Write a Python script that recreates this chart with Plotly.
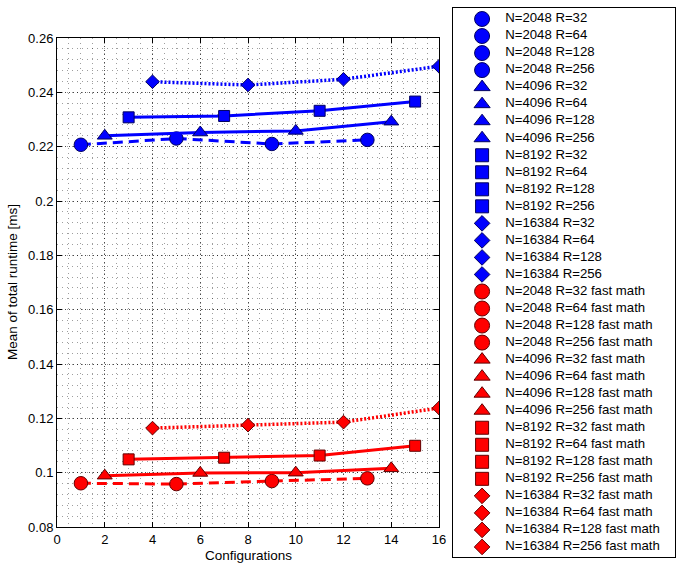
import plotly.graph_objects as go

# ---------------- data ----------------
N_values = [2048, 4096, 8192, 16384]
R_values = [32, 64, 128, 256]

circle_x = [1, 5, 9, 13]
triangle_x = [2, 6, 10, 14]
square_x = [3, 7, 11, 15]
diamond_x = [4, 8, 12, 16]

blue_circle_y = [0.2207, 0.2230, 0.2210, 0.2225]
blue_triangle_y = [0.2240, 0.2252, 0.2258, 0.2292]
blue_square_y = [0.2308, 0.2313, 0.2332, 0.2366]
blue_diamond_y = [0.2439, 0.2427, 0.2448, 0.2496]

red_circle_y = [0.0961, 0.0958, 0.0969, 0.0979]
red_triangle_y = [0.0989, 0.0999, 0.1000, 0.1016]
red_square_y = [0.1049, 0.1055, 0.1063, 0.1099]
red_diamond_y = [0.1164, 0.1175, 0.1186, 0.1238]

y_tick_vals = [0.08, 0.10, 0.12, 0.14, 0.16, 0.18, 0.20, 0.22, 0.24, 0.26]
y_tick_text = ["0.08", "0.1", "0.12", "0.14", "0.16", "0.18", "0.2", "0.22", "0.24", "0.26"]
x_tick_vals = [0, 2, 4, 6, 8, 10, 12, 14, 16]

x_title = "Configurations"
y_title = "Mean of total runtime [ms]"

BLUE = "#0000ff"
RED = "#ff0000"
FONT = "Liberation Sans, Arial, sans-serif"

W, H = 681, 568

fig = go.Figure()

series = [
    (circle_x, blue_circle_y, BLUE, "circle", 13.5, "10px,6px"),
    (triangle_x, blue_triangle_y, BLUE, "triangle-up", 13, "solid"),
    (square_x, blue_square_y, BLUE, "square", 11, "solid"),
    (diamond_x, blue_diamond_y, BLUE, "diamond", 10.5, "2px,2px"),
    (circle_x, red_circle_y, RED, "circle", 13.5, "10px,6px"),
    (triangle_x, red_triangle_y, RED, "triangle-up", 13, "solid"),
    (square_x, red_square_y, RED, "square", 11, "solid"),
    (diamond_x, red_diamond_y, RED, "diamond", 10.5, "2px,2px"),
]

for xs, ys, col, sym, size, dash in series:
    edge = "#000060" if col == BLUE else "#600000"
    fig.add_trace(go.Scatter(
        x=xs, y=ys, mode="lines+markers",
        line=dict(color=col, width=3.5 if dash == "2px,2px" else 3, dash=dash),
        marker=dict(symbol=sym, size=size, color=col, opacity=1,
                    line=dict(color=edge, width=1)),
        showlegend=False, xaxis="x", yaxis="y",
    ))

# ---------------- manual legend (second axes) ----------------
leg_labels, leg_syms, leg_cols, leg_sizes = [], [], [], []
sym_for = ["circle", "triangle-up", "square", "diamond"]
size_for = [15, 14, 13, 12]
for suffix, col in [("", BLUE), (" fast math", RED)]:
    for i, n in enumerate(N_values):
        for r in R_values:
            leg_labels.append(f"N={n} R={r}{suffix}")
            leg_syms.append(sym_for[i])
            leg_cols.append(col)
            leg_sizes.append(size_for[i])
rows = list(range(len(leg_labels)))

fig.add_trace(go.Scatter(
    x=[0.131] * len(rows), y=rows, mode="markers",
    marker=dict(symbol=leg_syms, size=leg_sizes, color=leg_cols, opacity=1,
                line=dict(color=["#000060" if c == BLUE else "#600000" for c in leg_cols], width=1)),
    showlegend=False, xaxis="x2", yaxis="y2", hoverinfo="skip",
))
fig.add_trace(go.Scatter(
    x=[0.235] * len(rows), y=rows, mode="text", text=leg_labels,
    textposition="middle right", textfont=dict(family=FONT, size=13.2, color="black"),
    showlegend=False, xaxis="x2", yaxis="y2", hoverinfo="skip",
))

major_col = "rgba(0,0,0,0.7)"
minor_col = "rgba(0,0,0,0.38)"
fig.update_layout(
    width=W, height=H,
    margin=dict(l=0, r=0, t=0, b=0, autoexpand=False),
    paper_bgcolor="white", plot_bgcolor="white",
    font=dict(family=FONT, size=13, color="black"),
    xaxis=dict(
        domain=[57 / W, 439 / W], range=[0, 16], tickvals=x_tick_vals,
        ticks="inside", ticklen=5, tickcolor="black", mirror="allticks",
        showline=True, linecolor="black", linewidth=1, automargin=False,
        showgrid=True, gridcolor=major_col, griddash="1px,3px", gridwidth=1,
        minor=dict(dtick=0.5, tick0=0, showgrid=True, gridcolor=minor_col,
                   griddash="1px,4px", gridwidth=1, ticks=""),
        zeroline=False, tickfont=dict(size=13), anchor="y",
    ),
    yaxis=dict(
        domain=[1 - 527 / H, 1 - 38 / H], range=[0.08, 0.26],
        tickvals=y_tick_vals, ticktext=y_tick_text,
        ticks="inside", ticklen=5, tickcolor="black", mirror="allticks",
        showline=True, linecolor="black", linewidth=1, automargin=False,
        showgrid=True, gridcolor=major_col, griddash="1px,3px", gridwidth=1,
        minor=dict(dtick=0.004, tick0=0.08, showgrid=True, gridcolor=minor_col,
                   griddash="1px,4px", gridwidth=1, ticks=""),
        zeroline=False, tickfont=dict(size=13), anchor="x",
    ),
    xaxis2=dict(
        domain=[453 / W, 675 / W], range=[0, 1], showticklabels=False, ticks="",
        showgrid=False, zeroline=False, showline=True, mirror=True, automargin=False,
        linecolor="black", linewidth=1, anchor="y2", fixedrange=True,
    ),
    yaxis2=dict(
        domain=[1 - 557 / H, 1 - 8 / H], range=[31.59, -0.646], showticklabels=False,
        ticks="", showgrid=False, zeroline=False, showline=True, mirror=True, automargin=False,
        linecolor="black", linewidth=1, anchor="x2", fixedrange=True,
    ),
    annotations=[
        dict(text=x_title, xref="paper", yref="paper", x=248 / W, y=1 - 555 / H,
             xanchor="center", yanchor="middle", showarrow=False,
             font=dict(family=FONT, size=13.5, color="black")),
        dict(text=y_title, xref="paper", yref="paper", x=12 / W, y=1 - 282 / H,
             xanchor="center", yanchor="middle", showarrow=False, textangle=-90,
             font=dict(family=FONT, size=13.5, color="black")),
    ],
    showlegend=False,
)

fig.write_html(
    "out.html",
    config={"displayModeBar": False},
    post_script="document.body.style.margin='0';document.body.style.padding='0';",
)
